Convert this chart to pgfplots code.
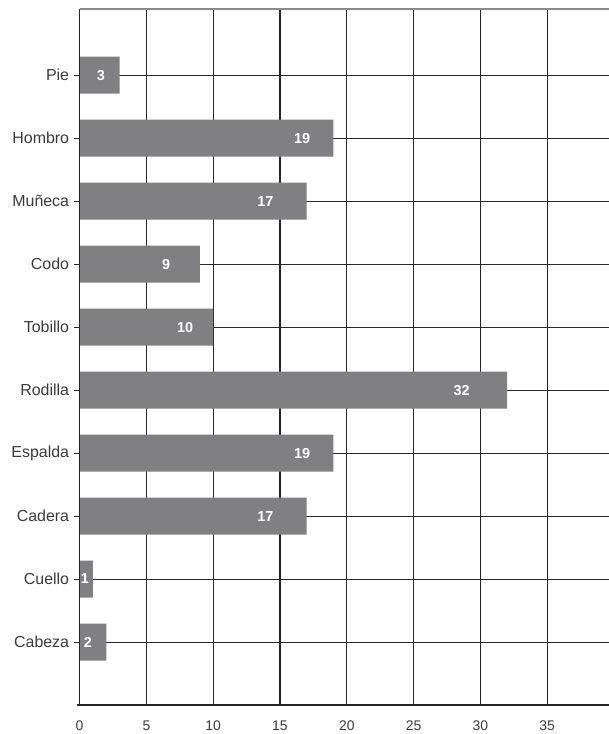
\documentclass[border=0pt]{standalone}
\usepackage{pgfplots}
\pgfplotsset{compat=1.18}
\usepackage{pgfplotstable}
\usepackage{fontspec}
\setmainfont{Liberation Sans}

\definecolor{barcol}{HTML}{808083}
\definecolor{textcol}{HTML}{3A3A3A}
\definecolor{gridcol}{HTML}{262626}
\definecolor{topcol}{HTML}{8A8A8A}

% pos: category row (1 = bottom), val: count, lx: where the count label sits
\pgfplotstableread{
pos val lx
1  2  0.63
2  1  0.40
3  17 13.90
4  19 16.65
5  32 28.60
6  10 7.90
7  9  6.47
8  17 13.90
9  19 16.65
10 3  1.60
}\lesiones

\begin{document}
\begin{tikzpicture}
\path[use as bounding box] (-79.6bp,-29bp) rectangle (529.4bp,705bp);
\begin{axis}[
  at={(0,0)}, anchor=south west,
  scale only axis,
  width=534.4bp, height=696bp,
  xmin=0, xmax=40,
  ymin=0, ymax=11.05,
  axis line style={draw=none},
  xtick={0,5,...,35},
  ytick={1,...,10},
  yticklabels={Cabeza,Cuello,Cadera,Espalda,Rodilla,Tobillo,Codo,Muñeca,Hombro,Pie},
  xmajorgrids=true, ymajorgrids=true,
  x grid style={gridcol, line width=1.05pt},
  y grid style={gridcol, line width=0.9pt},
  x tick style={draw=none},
  y tick style={gridcol, line width=0.9pt},
  tick align=outside,
  major tick length=6bp,
  /pgf/number format/assume math mode=true,
  y tick label style={font=\fontsize{16}{18}\selectfont, text=textcol, xshift=-1bp},
  x tick label style={font=\fontsize{14}{16}\selectfont, text=textcol, yshift=-6bp},
  clip=false,
]
\addplot[xbar, bar width=37bp, fill=barcol, draw=none] table[x=val, y=pos] {\lesiones};
\addplot[draw=none, forget plot, only marks, mark=none,
  nodes near coords, point meta=explicit symbolic,
  nodes near coords align={center},
  every node near coord/.append style={anchor=center, text=white,
    font=\fontsize{14.5}{16}\selectfont\bfseries}]
  table[x=lx, y=pos, meta=val] {\lesiones};
% frame: left axis, heavy base line, grey top rule
\draw[gridcol, line width=1.4pt] (rel axis cs:0,0) -- (rel axis cs:0,1);
\draw[topcol, line width=2pt] (rel axis cs:0,1) -- (rel axis cs:1,1);
\draw[gridcol, line width=2.6pt] ([xshift=-3bp]rel axis cs:0,0) -- (rel axis cs:1,0);
\end{axis}
\end{tikzpicture}
\end{document}
